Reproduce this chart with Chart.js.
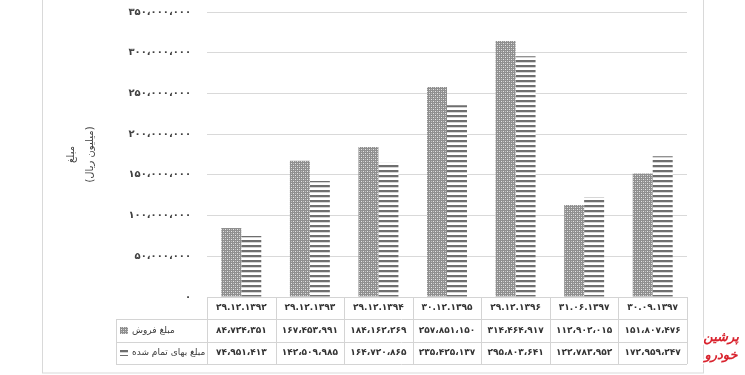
<!DOCTYPE html>
<html><head><meta charset="utf-8">
<script src="https://cdn.jsdelivr.net/npm/chart.js@4/dist/chart.umd.min.js"></script>
<style>html,body{margin:0;padding:0;background:#fff;}#wrap{width:745px;height:375px;position:relative;}</style>
</head><body><div id="wrap"><canvas id="c" width="745" height="375"></canvas></div>
<script>
const categories = ['۲۹.۱۲.۱۳۹۲', '۲۹.۱۲.۱۳۹۳', '۲۹.۱۲.۱۳۹۴', '۳۰.۱۲.۱۳۹۵', '۲۹.۱۲.۱۳۹۶', '۳۱.۰۶.۱۳۹۷', '۳۰.۰۹.۱۳۹۷'];
const salesValues = [84724351, 167453991, 184162269, 257851150, 314464917, 112902015, 151807476];
const costValues = [74951413, 142509985, 164720865, 235425137, 295803641, 122783952, 172959247];
const seriesNames = ['مبلغ فروش', 'مبلغ بهای تمام شده'];
const yTicks = [0, 50000000, 100000000, 150000000, 200000000, 250000000, 300000000, 350000000];
const yTitle = ['مبلغ', '(میلیون ریال)'];
const watermark = ['پرشین', 'خودرو'];

const FA = '۰۱۲۳۴۵۶۷۸۹';
function faNum(n) {
  return Math.round(n).toLocaleString('en-US').replace(/,/g, '،').replace(/\d/g, d => FA[d]);
}
function makeSalesPattern() {
  const c = document.createElement('canvas'); c.width = 4; c.height = 4;
  const g = c.getContext('2d');
  g.fillStyle = '#8f8f8f'; g.fillRect(0, 0, 4, 4);
  g.fillStyle = '#e4e4e4'; g.fillRect(1, 1, 1, 1); g.fillRect(3, 3, 1, 1);
  g.fillStyle = '#bdbdbd'; g.fillRect(3, 1, 1, 1); g.fillRect(1, 3, 1, 1);
  return g.createPattern(c, 'repeat');
}
function makeCostPattern() {
  const c = document.createElement('canvas'); c.width = 4; c.height = 5;
  const g = c.getContext('2d');
  g.fillStyle = '#ffffff'; g.fillRect(0, 0, 4, 5);
  g.fillStyle = '#6e6e6e'; g.fillRect(0, 0, 4, 2);
  g.fillStyle = '#d6d6d6'; g.fillRect(0, 2, 4, 1);
  return g.createPattern(c, 'repeat');
}
const salesPat = makeSalesPattern();
const costPat = makeCostPattern();

const FONT = 'DejaVu Sans';
const tablePlugin = {
  id: 'tablePlugin',
  afterDraw(chart) {
    const ctx = chart.ctx, ca = chart.chartArea;
    const n = categories.length;
    const colW = (ca.right - ca.left) / n;
    const rows = [ca.bottom, 319, 342, 364];
    const legendLeft = 116;
    ctx.save();
    ctx.strokeStyle = '#d4d4d4'; ctx.lineWidth = 1;
    ctx.beginPath();
    ctx.moveTo(ca.left, rows[0] + 0.5); ctx.lineTo(ca.right, rows[0] + 0.5);
    for (let r = 1; r < 4; r++) { ctx.moveTo(legendLeft, rows[r] + 0.5); ctx.lineTo(ca.right, rows[r] + 0.5); }
    for (let i = 0; i <= n; i++) {
      const x = Math.round(ca.left + i * colW) + 0.5;
      ctx.moveTo(x, rows[0]); ctx.lineTo(x, rows[3]);
    }
    ctx.moveTo(legendLeft + 0.5, rows[1]); ctx.lineTo(legendLeft + 0.5, rows[3]);
    ctx.stroke();
    ctx.strokeStyle = '#d9d9d9';
    ctx.strokeRect(42.5, -5, 661, 378);
    ctx.fillStyle = '#333333';
    ctx.font = 'bold 9px "' + FONT + '"';
    ctx.textAlign = 'center'; ctx.textBaseline = 'middle';
    const xs = chart.scales.x;
    for (let i = 0; i < n; i++) {
      const cx = xs.getPixelForValue(i);
      ctx.fillText(categories[i], cx, (rows[0] + rows[1]) / 2);
      ctx.fillText(faNum(salesValues[i]), cx, (rows[1] + rows[2]) / 2);
      ctx.fillText(faNum(costValues[i]), cx, (rows[2] + rows[3]) / 2);
    }
    ctx.textAlign = 'left';
    ctx.font = '9px "' + FONT + '"';
    const pats = [salesPat, costPat];
    for (let s = 0; s < 2; s++) {
      const cy = (rows[s + 1] + rows[s + 2]) / 2;
      ctx.fillStyle = pats[s];
      ctx.fillRect(120, Math.round(cy) - 4, 8, 7);
      ctx.fillStyle = '#3a3a3a';
      ctx.fillText(seriesNames[s], 132, cy);
    }
    ctx.textAlign = 'center';
    ctx.font = 'italic bold 13px "' + FONT + '"';
    ctx.lineWidth = 3; ctx.strokeStyle = '#ffffff'; ctx.fillStyle = '#d9232e';
    ctx.strokeText(watermark[0], 721, 338); ctx.fillText(watermark[0], 721, 338);
    ctx.strokeText(watermark[1], 721, 356); ctx.fillText(watermark[1], 721, 356);
    ctx.restore();
  }
};

new Chart(document.getElementById('c'), {
  type: 'bar',
  data: {
    labels: categories,
    datasets: [
      { label: seriesNames[0], data: salesValues, backgroundColor: salesPat, borderWidth: 0 },
      { label: seriesNames[1], data: costValues, backgroundColor: costPat, borderWidth: 0 }
    ]
  },
  options: {
    responsive: false, animation: false,
    layout: { padding: { left: 62, right: 58, top: 12, bottom: 0 } },
    plugins: { legend: { display: false }, tooltip: { enabled: false } },
    datasets: { bar: { categoryPercentage: 0.583, barPercentage: 1.0 } },
    scales: {
      x: {
        grid: { display: false }, border: { display: false },
        ticks: { display: false },
        afterFit(s) { s.height = 78; s.paddingLeft = 0; s.paddingRight = 0; }
      },
      y: {
        min: 0, max: 350000000,
        afterBuildTicks(s) { s.ticks = yTicks.map(v => ({ value: v })); },
        ticks: { padding: 16, color: '#404040', font: { family: FONT, size: 10, weight: 'bold' }, callback: v => faNum(v) },
        grid: { color: '#d9d9d9', drawTicks: false },
        border: { display: false },
        title: { display: true, text: yTitle, color: '#404040', font: { family: FONT, size: 10, lineHeight: 1.9 }, padding: { top: 0, bottom: 0 } },
        afterFit(s) { s.width = 145; s.paddingTop = 0; s.paddingBottom = 0; }
      }
    }
  },
  plugins: [tablePlugin]
});
</script>
</body></html>
